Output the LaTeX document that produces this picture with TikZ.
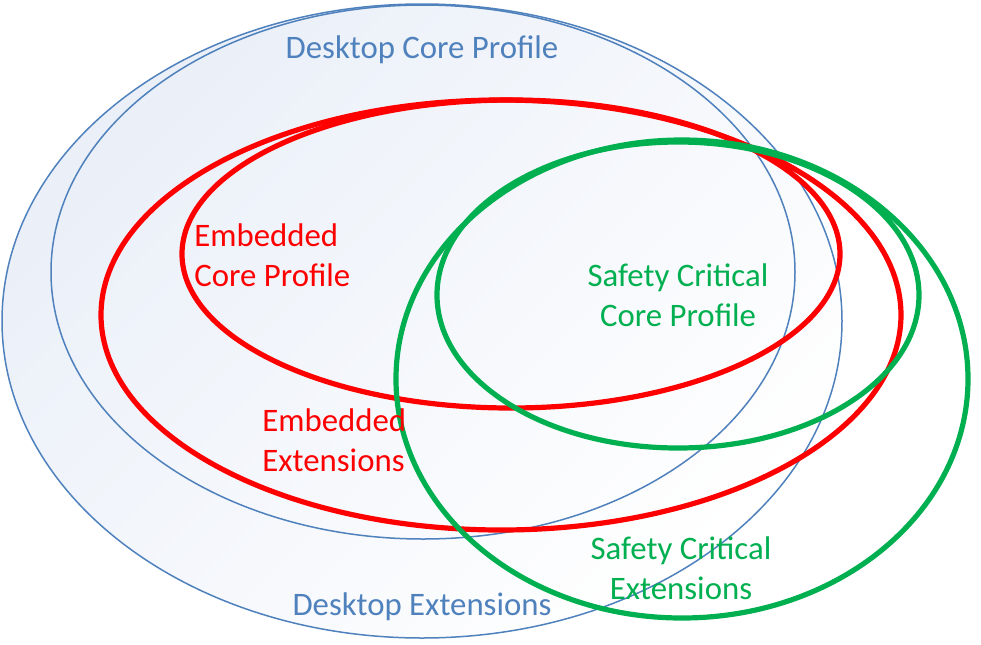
\documentclass[tikz,border=0pt]{standalone}
\usepackage{fontspec}
\setmainfont{Carlito}
\usepackage{xcolor}
\usetikzlibrary{positioning}
\definecolor{deskblue}{RGB}{79,129,189}
\definecolor{deskfill}{RGB}{234,239,248}
\definecolor{embred}{RGB}{255,0,0}
\definecolor{safegreen}{RGB}{0,176,80}
\tikzset{
    venn/.style={x=0.5pt, y=-0.5pt, font=\fontsize{16.4}{20}\selectfont},
    desk/.style={draw=deskblue, line width=0.75pt},
    emb/.style={draw=embred, line width=2.6pt},
    safe/.style={draw=safegreen, line width=2.6pt},
    label/.style={inner sep=0pt, align=center},
}

\begin{document}
\begin{tikzpicture}[venn]
        \useasboundingbox (0,0) rectangle (981,644);

        % desktop sets
        \shade[top color=deskfill, bottom color=white, shading angle=45]
            (422,321) ellipse [x radius=420, y radius=317];
        \path[desk] (422,321) ellipse [x radius=420, y radius=317];
        \path[desk] (423,272) ellipse [x radius=372, y radius=267];

        % embedded sets
        \path[emb] (501,315) ellipse [x radius=400, y radius=215];
        \path[emb] (511,254) ellipse [x radius=329, y radius=154];

        % safety critical sets
        \path[safe] (682,379) ellipse [x radius=286, y radius=239];
        \path[safe] (678,295) ellipse [x radius=241, y radius=153];

        \node[label, text=deskblue]                  (dcore) at (422,50)  {Desktop Core Profile};
        \node[label, text=deskblue]                  (dext)  at (422,607) {Desktop Extensions};
        \node[label, text=embred, align=left, anchor=west] (ecore) at (194,255) {Embedded\\Core Profile};
        \node[label, text=embred, align=left, anchor=west] (eext)  at (262,440) {Embedded\\Extensions};
        \node[label, text=safegreen]                 (score) at (678,295) {Safety Critical\\Core Profile};
        \node[label, text=safegreen]                 (sext)  at (681,568) {Safety Critical\\Extensions};
    \end{tikzpicture}
\end{document}
